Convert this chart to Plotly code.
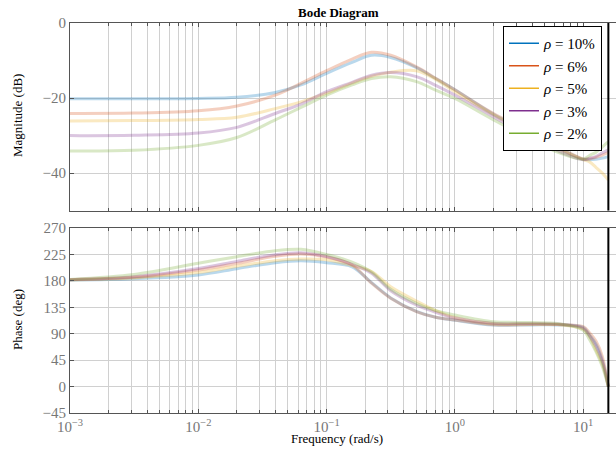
import plotly.graph_objects as go

# ---------------- data ----------------
freq = [0.001, 0.00316, 0.01, 0.02, 0.0398, 0.0631, 0.1, 0.158, 0.224, 0.316,
        0.501, 0.708, 1.0, 2.0, 3.98, 6.31, 10.0, 11.2, 12.6, 14.1, 15.7]

labels = ["10%", "6%", "5%", "3%", "2%"]
colors = ["#0072BD", "#D95319", "#EDB120", "#7E2F8E", "#77AC30"]

mag_10 = [-20.2, -20.2, -20.1, -19.8, -18.5, -16.5, -13.4, -10.5, -8.6, -9.2,
          -11.9, -14.8, -17.8, -24.3, -29.5, -33.2, -36.3, -36.4, -36.3, -36.0, -35.6]
mag_6 = [-24.1, -24.0, -23.4, -22.1, -19.2, -16.1, -12.7, -9.6, -7.8, -8.6,
         -11.7, -14.7, -17.8, -24.1, -29.2, -33.0, -36.2, -36.2, -35.8, -35.2, -34.5]
mag_5 = [-26.1, -26.0, -25.7, -25.1, -22.8, -21.0, -18.7, -16.0, -14.2, -13.1,
         -12.7, -15.0, -18.3, -24.5, -30.0, -33.5, -36.4, -37.0, -38.5, -40.0, -41.8]
mag_3 = [-30.0, -29.9, -29.3, -27.8, -24.1, -21.6, -18.3, -15.8, -13.9, -13.2,
         -14.3, -16.6, -19.2, -25.0, -30.5, -34.0, -36.4, -36.0, -35.5, -34.6, -33.8]
mag_2 = [-34.1, -33.9, -32.6, -30.5, -25.8, -22.5, -19.2, -16.5, -14.8, -14.3,
         -15.6, -17.9, -20.1, -25.8, -31.0, -34.4, -36.3, -35.3, -34.4, -33.0, -31.6]

ph_10 = [181, 183.5, 190, 200.7, 211, 214.3, 211, 204, 177, 151,
         128, 118, 113, 104.8, 105, 105, 101, 88, 72, 45, 0]
ph_6 = [182, 186, 198.5, 209.8, 221.8, 225.7, 220.5, 207, 176, 150.3,
        127.5, 118, 113.4, 105.4, 105.5, 105.5, 102, 91.7, 77, 51, 0]
ph_5 = [181.5, 185, 194, 204.8, 214.3, 217.2, 216, 206, 196, 170,
        145.7, 129.3, 117.5, 107, 106.5, 105.5, 98, 86, 62, 39, 0]
ph_3 = [182, 187, 201, 213.2, 224.6, 228, 221.5, 208, 193, 163.3,
        138.9, 126.4, 116.9, 107.7, 107.5, 106.5, 99, 86, 68, 42, 0]
ph_2 = [182.5, 191, 210, 221.2, 231.4, 233.7, 225, 212, 195, 165.6,
        141.8, 129.3, 121.9, 110.5, 109, 107.5, 96, 80, 59, 34, 0]

mags = [mag_10, mag_6, mag_5, mag_3, mag_2]
phases = [ph_10, ph_6, ph_5, ph_3, ph_2]

NYQUIST = 15.708  # rad/s

x_tickvals = [0.001, 0.01, 0.1, 1, 10]
x_ticktext = ["10<sup>\u22123</sup>", "10<sup>\u22122</sup>", "10<sup>\u22121</sup>",
              "10<sup>0</sup>", "10<sup>1</sup>"]
mag_ticks = [-40, -20, 0]
ph_ticks = [-45, 0, 45, 90, 135, 180, 225, 270]

# ---------------- figure ----------------
W, H = 616, 450
L, R, T, B = 70, 0, 23, 37
PW, PH = W - L - R, H - T - B


def px(xp):
    return (xp - L) / PW


def py(yp):
    return (H - B - yp) / PH


FONT = "Liberation Serif"
fig = go.Figure()

for lab, col, m, p in zip(labels, colors, mags, phases):
    fig.add_trace(go.Scatter(x=freq, y=m, mode="lines", xaxis="x", yaxis="y",
                             line=dict(color=col, width=3, shape="spline", smoothing=1.0),
                             opacity=0.27, showlegend=False, hoverinfo="skip"))
    fig.add_trace(go.Scatter(x=freq, y=p, mode="lines", xaxis="x2", yaxis="y2",
                             line=dict(color=col, width=3, shape="spline", smoothing=0.9),
                             opacity=0.27, showlegend=False, hoverinfo="skip"))
    fig.add_trace(go.Scatter(x=[None], y=[None], mode="lines", xaxis="x", yaxis="y",
                             line=dict(color=col, width=1.5),
                             name="<i>\u03c1</i> = " + lab))

# Nyquist lines
fig.add_trace(go.Scatter(x=[NYQUIST, NYQUIST], y=[-50, 0], mode="lines", xaxis="x", yaxis="y",
                         line=dict(color="black", width=2), showlegend=False, hoverinfo="skip"))
fig.add_trace(go.Scatter(x=[NYQUIST, NYQUIST], y=[-45, 270], mode="lines", xaxis="x2", yaxis="y2",
                         line=dict(color="black", width=2), showlegend=False, hoverinfo="skip"))

minor_vals = [k * 10 ** e for e in range(-3, 2) for k in range(2, 10)]
xmax_log = (W - L) / 128.3 - 3

axis_common = dict(showline=True, linecolor="#555555", linewidth=1,
                   ticks="inside", tickcolor="#555555", ticklen=4,
                   gridcolor="#d0d0d0", gridwidth=1, zeroline=False,
                   tickfont=dict(family=FONT, size=15, color="#777777"))

xcommon = dict(type="log", range=[-3, xmax_log], tickvals=x_tickvals, ticktext=x_ticktext,
               mirror="ticks",
               minor=dict(tickvals=minor_vals, showgrid=True, gridcolor="#d0d0d0",
                          ticks="inside", ticklen=3, tickcolor="#555555"),
               **axis_common)

fig.update_layout(
    width=W, height=H,
    margin=dict(l=L, r=R, t=T, b=B),
    paper_bgcolor="white", plot_bgcolor="white",
    xaxis=dict(anchor="y", domain=[0, 1], showticklabels=False, **xcommon),
    yaxis=dict(anchor="x", domain=[py(210.7), 1], range=[-50, 0], tickvals=mag_ticks,
               ticktext=["\u221240", "\u221220", "0"], mirror=False, **axis_common),
    xaxis2=dict(anchor="y2", domain=[0, 1], matches="x", **xcommon),
    yaxis2=dict(anchor="x2", domain=[0, py(228)], range=[-45, 270], tickvals=ph_ticks,
                ticktext=["\u221245", "0", "45", "90", "135", "180", "225", "270"],
                mirror=False, **axis_common),
    legend=dict(x=px(503), y=py(26), xanchor="left", yanchor="top",
                bgcolor="white", bordercolor="black", borderwidth=1,
                font=dict(family=FONT, size=15, color="black"),
                tracegroupgap=0, itemwidth=30),
    showlegend=True,
)

ann = dict(xref="paper", yref="paper", showarrow=False, yanchor="middle", xanchor="center",
           font=dict(family=FONT, size=13, color="black"))
fig.add_annotation(x=px(338), y=py(12), text="<b>Bode Diagram</b>", **ann)
fig.add_annotation(x=px(17), y=py(116), text="Magnitude (dB)", textangle=-90, **ann)
fig.add_annotation(x=px(17), y=py(320), text="Phase (deg)", textangle=-90, **ann)
fig.add_annotation(x=px(337), y=py(438), text="Frequency (rad/s)", **ann)

fig.write_html("out.html")
